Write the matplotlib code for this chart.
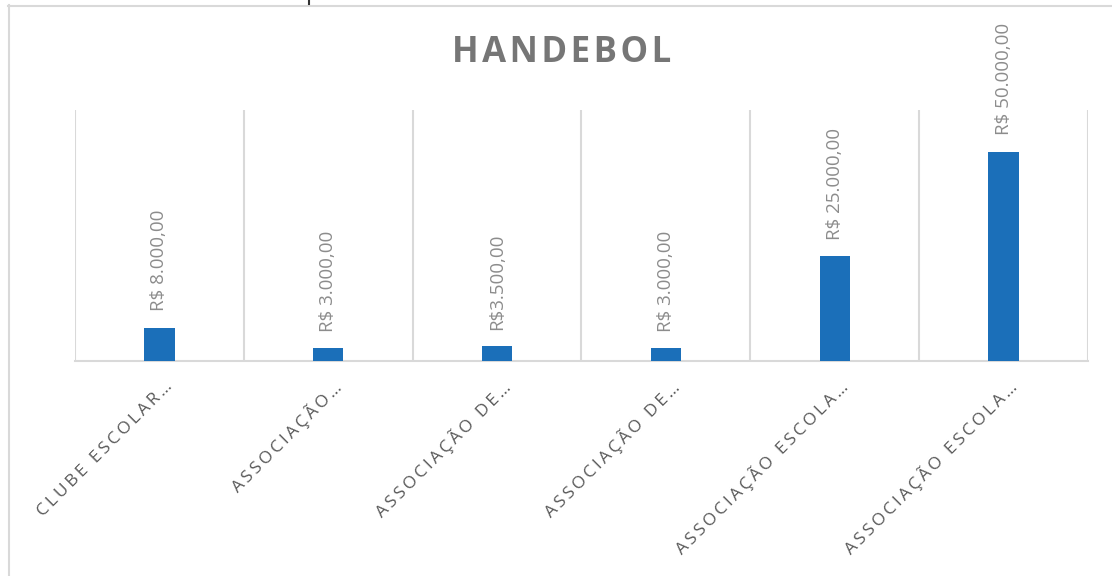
import matplotlib.pyplot as plt
from matplotlib.lines import Line2D
from matplotlib.transforms import ScaledTranslation

categories = ['CLUBE ESCOLAR…', 'ASSOCIAÇÃO…', 'ASSOCIAÇÃO DE…',
              'ASSOCIAÇÃO DE…', 'ASSOCIAÇÃO ESCOLA…', 'ASSOCIAÇÃO ESCOLA…']
values = [8000, 3000, 3500, 3000, 25000, 50000]
value_labels = ['R$ 8.000,00', 'R$ 3.000,00', 'R$3.500,00',
                'R$ 3.000,00', 'R$ 25.000,00', 'R$ 50.000,00']

fonts = ['Open Sans', 'DejaVu Sans']


def spaced(s, sep='\u2009'):
    return sep.join(s)


fig = plt.figure(figsize=(11.12, 5.76), dpi=100)
ax = fig.add_axes([75 / 1112, 1 - 361 / 576, 1013 / 1112, 251 / 576])

x = range(len(values))
bars = ax.bar(x, values, width=0.18, color='#1B6FB9', zorder=3)

ax.set_xlim(-0.5, len(values) - 0.5)
ax.set_ylim(0, 60000)

# vertical separators between categories
for b in range(len(values) + 1):
    ax.axvline(b - 0.5, color='#d9d9d9', lw=1.5, zorder=1)

for s in ['top', 'right', 'left']:
    ax.spines[s].set_visible(False)
ax.spines['bottom'].set_color('#d9d9d9')
ax.spines['bottom'].set_linewidth(1.5)
ax.set_yticks([])

for rect, lab in zip(bars, value_labels):
    ax.annotate(lab, (rect.get_x() + rect.get_width() / 2, rect.get_height()),
                xytext=(0, 12), textcoords='offset points', rotation=90,
                ha='center', va='bottom', color='#8c8c8c', fontsize=13.5,
                family=fonts)

ax.set_xticks(list(x))
ax.set_xticklabels([spaced(c) for c in categories], rotation=45, ha='right',
                   va='center', rotation_mode='anchor', color='#595959',
                   fontsize=12.5, family=fonts)
ax.tick_params(axis='x', length=0, pad=17)
for lbl in ax.get_xticklabels():
    lbl.set_transform(lbl.get_transform() + ScaledTranslation(0.11, 0, fig.dpi_scale_trans))

fig.text(0.505, 1 - 53 / 576, spaced('HANDEBOL', '\u200a'), ha='center', va='center',
         fontsize=25, fontweight='bold', color='#767676', family=fonts)

# chart area frame
fig.add_artist(Line2D([8.5 / 1112, 8.5 / 1112], [0, 1 - 5 / 576], color='#d9d9d9', lw=1.5))
fig.add_artist(Line2D([8 / 1112, 1], [1 - 5.5 / 576, 1 - 5.5 / 576], color='#d9d9d9', lw=1.5))
fig.add_artist(Line2D([309 / 1112, 309 / 1112], [1, 1 - 4 / 576], color='#333333', lw=1.5))

fig.savefig('out.png', dpi=100, facecolor='white')
